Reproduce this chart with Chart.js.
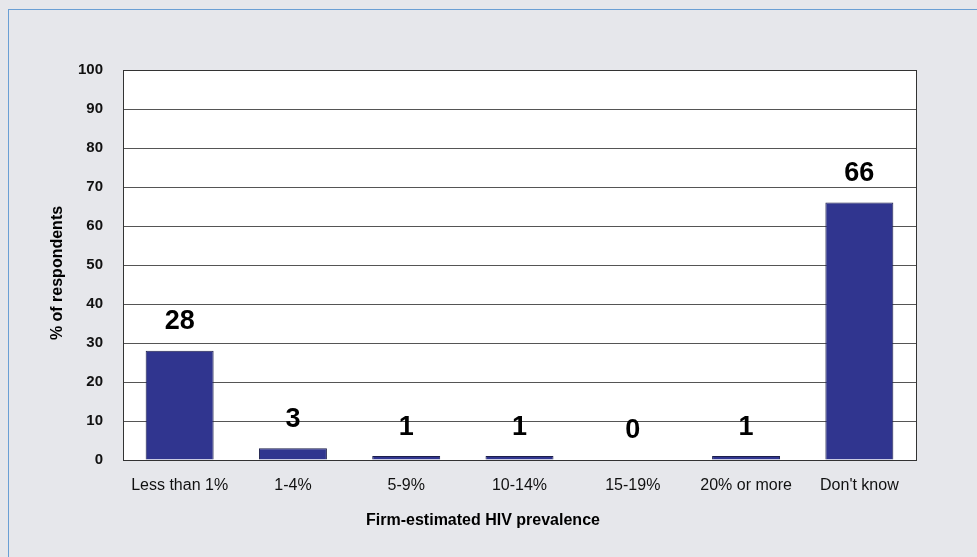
<!DOCTYPE html>
<html>
<head>
<meta charset="utf-8">
<script src="https://cdn.jsdelivr.net/npm/chart.js@4"></script>
<style>
html,body{margin:0;padding:0;background:#e6e7eb;}
#wrap{position:relative;width:977px;height:557px;overflow:hidden;}
#frame{position:absolute;left:8px;top:9px;width:1000px;height:600px;border-left:1px solid #6a9fd4;border-top:1px solid #6a9fd4;box-sizing:border-box;}
canvas{position:absolute;left:0;top:0;}
</style>
</head>
<body>
<div id="wrap">
<div id="frame"></div>
<canvas id="c" width="977" height="557"></canvas>
</div>
<script>
const categories = ["Less than 1%", "1-4%", "5-9%", "10-14%", "15-19%", "20% or more", "Don't know"];
const values = [28, 3, 1, 1, 0, 1, 66];
const yTitle = "% of respondents";
const xTitle = "Firm-estimated HIV prevalence";

const FONT = 'Arial, "Liberation Sans", sans-serif';

const plotBg = {
  id: 'plotBg',
  beforeDraw(chart) {
    const {ctx, chartArea: a} = chart;
    ctx.save();
    ctx.fillStyle = '#ffffff';
    ctx.fillRect(a.left, a.top, a.right - a.left, a.bottom - a.top);
    ctx.restore();
  },
  afterDraw(chart) {
    const {ctx, chartArea: a} = chart;
    ctx.save();
    ctx.strokeStyle = '#333';
    ctx.lineWidth = 1;
    ctx.strokeRect(Math.round(a.left) + 0.5, Math.round(a.top) + 0.5, Math.round(a.right - a.left), Math.round(a.bottom - a.top));
    // value labels
    const meta = chart.getDatasetMeta(0);
    ctx.fillStyle = '#000';
    ctx.font = 'bold 27px ' + FONT;
    ctx.textAlign = 'center';
    ctx.textBaseline = 'middle';
    meta.data.forEach((bar, i) => {
      ctx.fillText(String(values[i]), bar.x, bar.y - 29);
    });
    // axis titles
    ctx.font = 'bold 16px ' + FONT;
    ctx.fillText(xTitle, 483, 521);
    ctx.translate(58, 273);
    ctx.rotate(-Math.PI / 2);
    ctx.fillText(yTitle, 0, 0);
    ctx.restore();
  }
};

new Chart(document.getElementById('c'), {
  type: 'bar',
  data: {
    labels: categories,
    datasets: [{
      data: values,
      backgroundColor: '#30358f',
      borderColor: '#1c1f4a',
      borderWidth: 1,
      barPercentage: 0.6,
      categoryPercentage: 1.0
    }]
  },
  options: {
    responsive: false,
    animation: false,
    devicePixelRatio: 1,
    layout: {padding: {left: 0, top: 70, right: 61, bottom: 0}},
    plugins: {legend: {display: false}, tooltip: {enabled: false}},
    scales: {
      x: {
        afterFit(s) { s.height = 97; },
        grid: {display: false, drawTicks: false},
        border: {display: true, color: '#222', width: 1},
        ticks: {color: '#111', font: {family: FONT, size: 16}, padding: 16, maxRotation: 0, autoSkip: false}
      },
      y: {
        min: 0, max: 100,
        afterFit(s) { s.width = 123; },
        grid: {color: '#555', lineWidth: 1, drawTicks: false},
        border: {display: true, color: '#222', width: 1},
        ticks: {stepSize: 10, color: '#111', padding: 20, font: {family: FONT, size: 15, weight: 'bold'}}
      }
    }
  },
  plugins: [plotBg]
});
</script>
</body>
</html>
